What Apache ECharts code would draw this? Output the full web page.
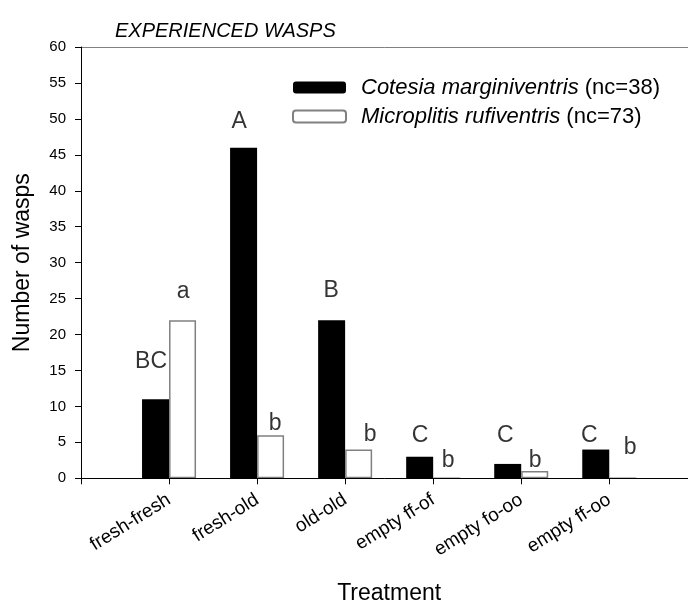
<!DOCTYPE html>
<html>
<head>
<meta charset="utf-8">
<script src="https://cdn.jsdelivr.net/npm/echarts@6/dist/echarts.min.js"></script>
<style>
  html, body { margin: 0; padding: 0; background: #fff; }
  #chart { width: 688px; height: 605px; }
</style>
</head>
<body>
<div id="chart"></div>
<script>
// Treatment groups (blank slots pad the axis on both sides)
const treatments = ['', 'fresh-fresh', 'fresh-old', 'old-old', 'empty ff-of', 'empty fo-oo', 'empty ff-oo', ''];

// Number of wasps choosing each treatment
const cotesiaCounts = [null, 11, 46, 22, 3, 2, 4, null];
const microplitisCounts = [null, 22, 6, 4, 0, 1, 0, null];

// Significance letters and the height (in wasps) at which each sits
const cotesiaLetters = ['', 'BC', 'A', 'B', 'C', 'C', 'C', ''];
const cotesiaLetterAt = [null, 16.2, 49.6, 26.1, 6.0, 6.0, 5.9, null];
const microplitisLetters = ['', 'a', 'b', 'b', 'b', 'b', 'b', ''];
const microplitisLetterAt = [null, 25.9, 7.6, 6.1, 2.5, 2.5, 4.2, null];

// Y axis ticks
const yMin = 0, yMax = 60, yStep = 5;

const legendNames = ['Cotesia marginiventris', 'Microplitis rufiventris'];
const legendCounts = ['(nc=38)', '(nc=73)'];

// Horizontal nudges (px) of each letter from its category centre
const cotesiaLetterDx = [0, -18, -18, -14, -13, -16, -20, 0];
const microplitisLetterDx = [0, 14, 18, 25, 15, 14, 21, 0];

const FONT = 'Liberation Sans, Arial, sans-serif';

function letterSeries(name, letters, at, dx) {
  return {
    name: name,
    type: 'scatter',
    symbolSize: 0,
    silent: true,
    data: at.map((v, i) => v === null ? null : {
      value: [i, v],
      label: { offset: [dx[i], 0] }
    }),
    label: {
      show: true,
      position: 'inside',
      fontFamily: FONT,
      fontSize: 23,
      color: '#000',
      formatter: p => letters[p.dataIndex]
    },
    z: 5
  };
}

const chart = echarts.init(document.getElementById('chart'), null, { renderer: 'canvas' });

chart.setOption({
  animation: false,
  backgroundColor: '#fff',
  textStyle: { fontFamily: FONT, color: '#000' },
  title: {
    text: 'EXPERIENCED WASPS',
    left: 110,
    top: 16,
    textStyle: { fontFamily: FONT, fontSize: 20, fontStyle: 'italic', fontWeight: 'normal', color: '#000' }
  },
  legend: {
    data: legendNames,
    orient: 'vertical',
    left: 287,
    top: 71,
    itemWidth: 53,
    itemHeight: 12,
    itemGap: 6,
    selectedMode: false,
    formatter: name => '{sp|}{i|' + name + '} ' + legendCounts[legendNames.indexOf(name)],
    textStyle: {
      fontFamily: FONT,
      fontSize: 22,
      lineHeight: 23,
      color: '#000',
      rich: {
        sp: { width: 10 },
        i: { fontFamily: FONT, fontSize: 22, lineHeight: 23, fontStyle: 'italic', color: '#000' }
      }
    }
  },
  grid: {
    left: 81, right: -9.3, top: 47, bottom: 126.7,
    containLabel: false,
    outerBoundsMode: 'none'
  },
  xAxis: [
    {
      type: 'category',
      data: treatments,
      boundaryGap: false,
      z: 3,
      axisLine: { lineStyle: { color: '#000', width: 1 } },
      axisTick: { show: true, length: 6, interval: i => i < 7, lineStyle: { color: '#000' } },
      axisLabel: { interval: 0, rotate: 32, margin: 20, fontFamily: FONT, fontSize: 19, color: '#000' },
      splitLine: { show: false },
      name: 'Treatment',
      nameLocation: 'middle',
      nameGap: 104,
      nameTextStyle: { fontFamily: FONT, fontSize: 23, color: '#000' }
    },
    {
      type: 'category',
      data: treatments,
      boundaryGap: false,
      position: 'top',
      axisLine: { lineStyle: { color: '#808080', width: 1 } },
      axisTick: { show: false },
      axisLabel: { show: false },
      splitLine: { show: false }
    }
  ],
  yAxis: {
    type: 'value',
    min: yMin,
    max: yMax,
    interval: yStep,
    z: 3,
    axisLine: { show: true, lineStyle: { color: '#000', width: 1 } },
    axisTick: { show: true, inside: false, length: 6, lineStyle: { color: '#000' } },
    axisLabel: { margin: 15, fontFamily: FONT, fontSize: 15, color: '#000' },
    splitLine: { show: false },
    name: 'Number of wasps',
    nameLocation: 'middle',
    nameGap: 47,
    nameRotate: 90,
    nameTextStyle: { fontFamily: FONT, fontSize: 23, color: '#000' }
  },
  series: [
    {
      name: legendNames[0],
      type: 'bar',
      data: cotesiaCounts,
      barWidth: 27,
      barGap: '0%',
      itemStyle: { color: '#000', borderColor: '#000', borderWidth: 0 }
    },
    {
      name: legendNames[1],
      type: 'bar',
      data: microplitisCounts,
      barWidth: 27,
      barGap: '0%',
      itemStyle: { color: '#fff', borderColor: '#808080', borderWidth: 1.5 }
    },
    letterSeries('cotesia letters', cotesiaLetters, cotesiaLetterAt, cotesiaLetterDx),
    letterSeries('microplitis letters', microplitisLetters, microplitisLetterAt, microplitisLetterDx)
  ]
});
</script>
</body>
</html>
